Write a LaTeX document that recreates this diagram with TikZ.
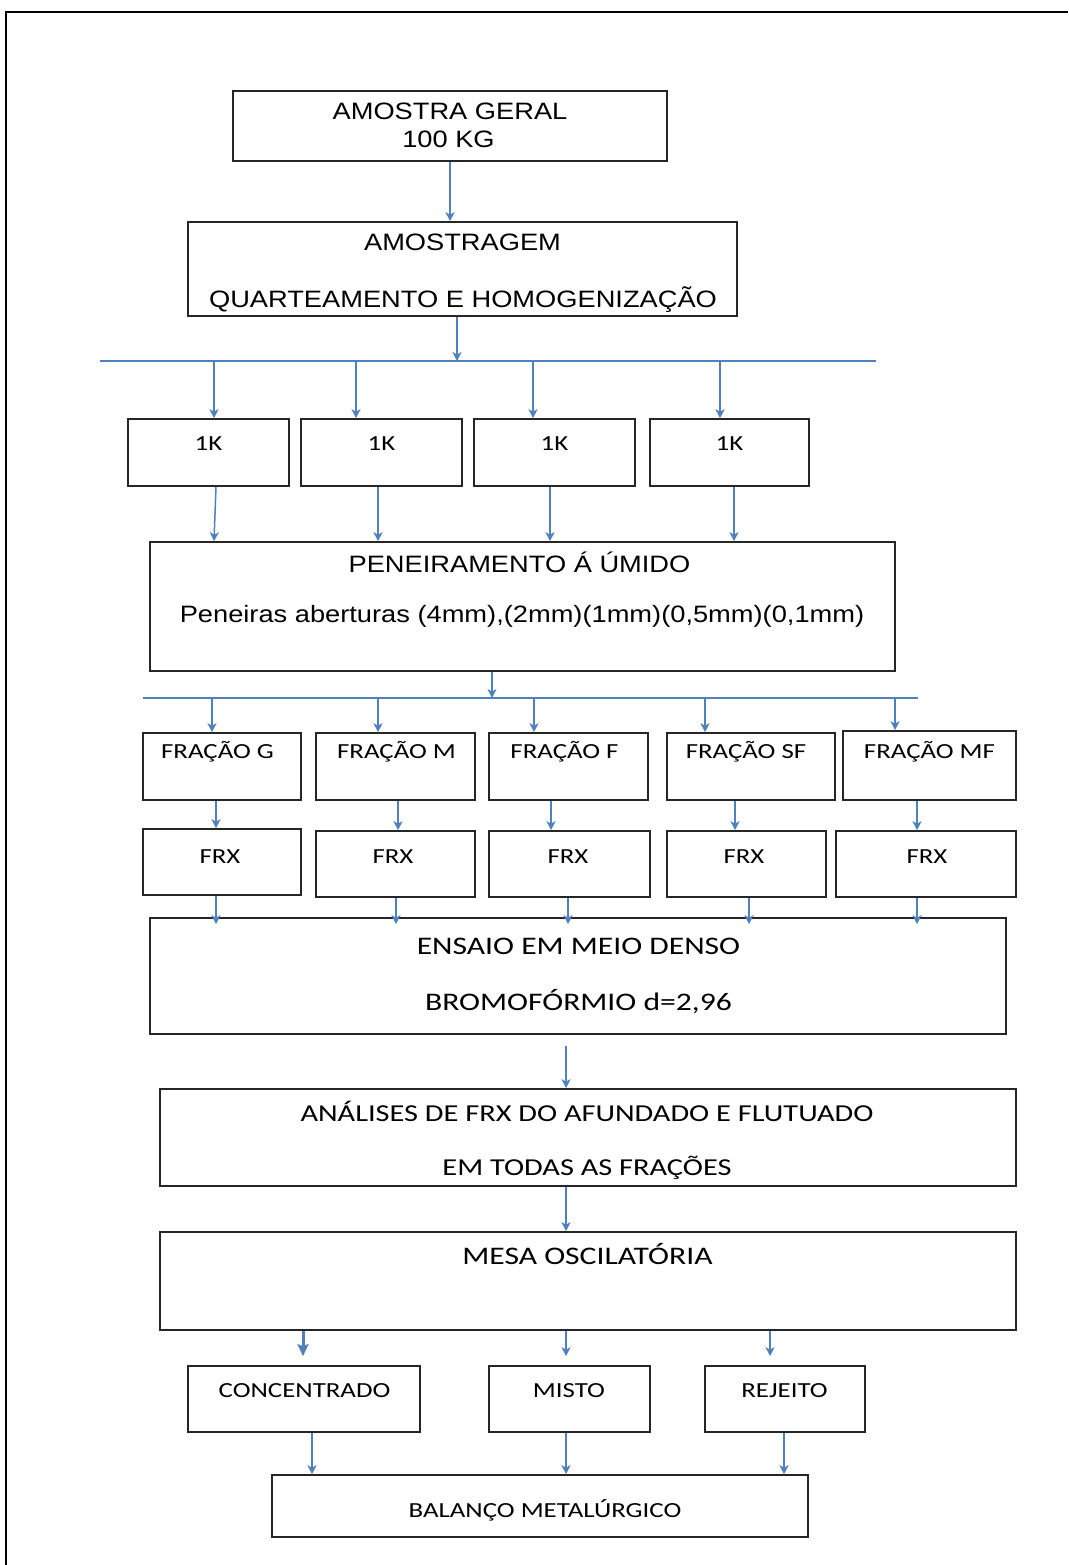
\documentclass[tikz,border=0pt]{standalone}
\usepackage{fontspec}
\setmainfont{Liberation Sans}
\newfontfamily\arialf{Liberation Sans}[FakeStretch=1.15]
\newfontfamily\calf{Carlito}[FakeStretch=1.25]
\usetikzlibrary{arrows.meta}
\definecolor{flow}{RGB}{79,129,189}

\begin{document}
\begin{tikzpicture}[
    x=1pt, y=-1pt,
    >={Stealth[length=9pt,width=9pt,inset=2.5pt]},
    box/.style 2 args={
        draw=black!85,
        line width=1.6pt,
        inner sep=0pt,
        minimum width=#1,
        minimum height=#2
    },
    arialtxt/.style={inner sep=0pt, anchor=base, font=\arialf\fontsize{23.7}{28}\selectfont},
    caltxt/.style={inner sep=0pt, anchor=base, font=\calf\fontsize{25.3}{30}\selectfont},
    smalltxt/.style={inner sep=0pt, anchor=base, font=\calf\fontsize{21.5}{26}\selectfont},
    link/.style={->, draw=flow, line width=1.5pt},
    biglink/.style={-{Stealth[length=12pt,width=11pt,inset=2pt]}, draw=flow, line width=3pt},
    bus/.style={draw=flow, line width=1.5pt}
]
\useasboundingbox (0,0) rectangle (1068,1565);

% Page frame
\draw[line width=2.8pt] (1068,12) -- (6,12) -- (6,1565);

% Sample preparation
\node[box={434pt}{70pt}] (geral) at (450,126) {};
\node[arialtxt] (geral-l1) at (450,120) {AMOSTRA GERAL};
\node[arialtxt] (geral-l2) at (448.5,148) {100 KG};

\node[box={549pt}{94pt}] (amost) at (462.5,269) {};
\node[arialtxt] (amost-l1) at (462.5,250) {AMOSTRAGEM};
\node[arialtxt] (amost-l2) at (463,307) {QUARTEAMENTO E HOMOGENIZAÇÃO};

% Splitting bus and 1K portions
\coordinate (b1) at (457,361);
\coordinate (b1w) at (100,361);
\coordinate (b1e) at (876,361);
\draw[bus] (b1w) -- (b1e);

\foreach \i/\cx/\w in {1/208.5/161, 2/381.5/161, 3/554.5/161, 4/729.5/159} {
    \node[box={\w pt}{67pt}] (k\i) at (\cx,452.5) {};
    \node[smalltxt] (k\i-t) at (\cx,450) {1K};
}

% Wet sieving
\node[box={745pt}{129pt}] (pen) at (522.5,606.5) {};
\node[arialtxt] (pen-l1) at (519.5,572) {PENEIRAMENTO  Á ÚMIDO};
\node[arialtxt] (pen-l2) at (522,622) {Peneiras aberturas (4mm),(2mm)(1mm)(0,5mm)(0,1mm)};

\coordinate (b2) at (492,698);
\coordinate (b2w) at (143,698);
\coordinate (b2e) at (918,698);
\draw[bus] (b2w) -- (b2e);

% Size fractions and FRX
\foreach \n/\cx/\cy/\w/\h/\tx in {G/222/766.5/158/67/217.5, M/395.5/766.5/159/67/396.5, F/568.5/766.5/159/67/564.5, SF/751/766.5/168/67/746, MF/929.5/765.5/173/69/929.5} {
    \node[box={\w pt}{\h pt}] (f\n) at (\cx,\cy) {};
    \node[smalltxt] (f\n-t) at (\tx,758) {FRAÇÃO \n};
}
\foreach \n/\cx/\cy/\w/\tx in {G/222/862/158/220, M/395.5/864/159/393, F/569.5/864/161/568, SF/746.5/864/159/744, MF/926/864/180/927} {
    \node[box={\w pt}{66pt}] (x\n) at (\cx,\cy) {};
    \node[smalltxt] (x\n-t) at (\tx,863) {FRX};
}

% Dense medium, analyses and table
\node[box={856pt}{116pt}] (ens) at (578,976) {};
\node[caltxt] (ens-l1) at (578.5,954) {ENSAIO EM  MEIO DENSO};
\node[caltxt] (ens-l2) at (578.5,1010) {BROMOFÓRMIO d=2,96};

\node[box={856pt}{97pt}] (ana) at (588,1137.5) {};
\node[caltxt, font=\calf\fontsize{24.3}{29}\selectfont] (ana-l1) at (587,1121) {ANÁLISES DE FRX DO AFUNDADO E FLUTUADO};
\node[caltxt, font=\calf\fontsize{24.3}{29}\selectfont] (ana-l2) at (587,1175) {EM TODAS AS FRAÇÕES};

\node[box={856pt}{98pt}] (mesa) at (588,1281) {};
\node[caltxt] (mesa-t) at (587.5,1264) {MESA OSCILATÓRIA};

% Products
\node[box={232pt}{66pt}] (conc) at (304,1399) {};
\node[smalltxt] (conc-t) at (304.5,1397) {CONCENTRADO};
\node[box={161pt}{66pt}] (misto) at (569.5,1399) {};
\node[smalltxt] (misto-t) at (569,1397) {MISTO};
\node[box={160pt}{66pt}] (rej) at (785,1399) {};
\node[smalltxt] (rej-t) at (784.5,1397) {REJEITO};

\node[box={536pt}{62pt}] (bal) at (540,1506) {};
\node[smalltxt] (bal-t) at (545,1517) {BALANÇO METALÚRGICO};

% Connections
\draw[link] (geral.south) -- ([xshift=-12.5pt]amost.north);
\draw[link] ([xshift=-5.5pt]amost.south) -- (b1);

\foreach \i/\sx/\dx in {1/214/5.5, 2/356/-25.5, 3/533/-21.5, 4/720/-9.5} {
    \coordinate (s\i) at (\sx,361);
    \draw[link] (s\i) -- ([xshift=\dx pt]k\i.north);
}
\foreach \i/\da/\db in {1/7.5/-308.5, 2/-3.5/-144.5, 3/-4.5/27.5, 4/4.5/211.5}
    \draw[link] ([xshift=\da pt]k\i.south) -- ([xshift=\db pt]pen.north);

\draw[link] ([xshift=-30.5pt]pen.south) -- (b2);

\foreach \n/\sx/\dx in {G/212/-10, M/378/-17.5, F/534/-34.5, SF/705/-46, MF/895/-34.5} {
    \coordinate (t\n) at (\sx,698);
    \draw[link] (t\n) -- ([xshift=\dx pt]f\n.north);
}
\foreach \n/\da/\db in {G/-6/-6, M/2.5/2.5, F/-17.5/-18.5, SF/-16/-11.5, MF/-12.5/-9}
    \draw[link] ([xshift=\da pt]f\n.south) -- ([xshift=\db pt]x\n.north);
\foreach \n/\da/\db in {G/-6/-362, M/0.5/-182, F/-1.5/-10, SF/2.5/171, MF/-9/339}
    \draw[link] ([xshift=\da pt]x\n.south) -- ([xshift=\db pt,yshift=-7pt]ens.north);

\draw[link] ([xshift=-12pt,yshift=-11pt]ens.south) -- ([xshift=-22pt]ana.north);
\draw[link] ([xshift=-22pt]ana.south) -- ([xshift=-22pt]mesa.north);

\draw[biglink] ([xshift=-285pt]mesa.south) -- ([xshift=-1pt,yshift=9pt]conc.north);
\draw[link] ([xshift=-22pt]mesa.south) -- ([xshift=-3.5pt,yshift=9pt]misto.north);
\draw[link] ([xshift=182pt]mesa.south) -- ([xshift=-15pt,yshift=9pt]rej.north);

\draw[link] ([xshift=8pt]conc.south) -- ([xshift=-228pt]bal.north);
\draw[link] ([xshift=-3.5pt]misto.south) -- ([xshift=26pt]bal.north);
\draw[link] ([xshift=-1pt]rej.south) -- ([xshift=244pt]bal.north);

\end{tikzpicture}
\end{document}
